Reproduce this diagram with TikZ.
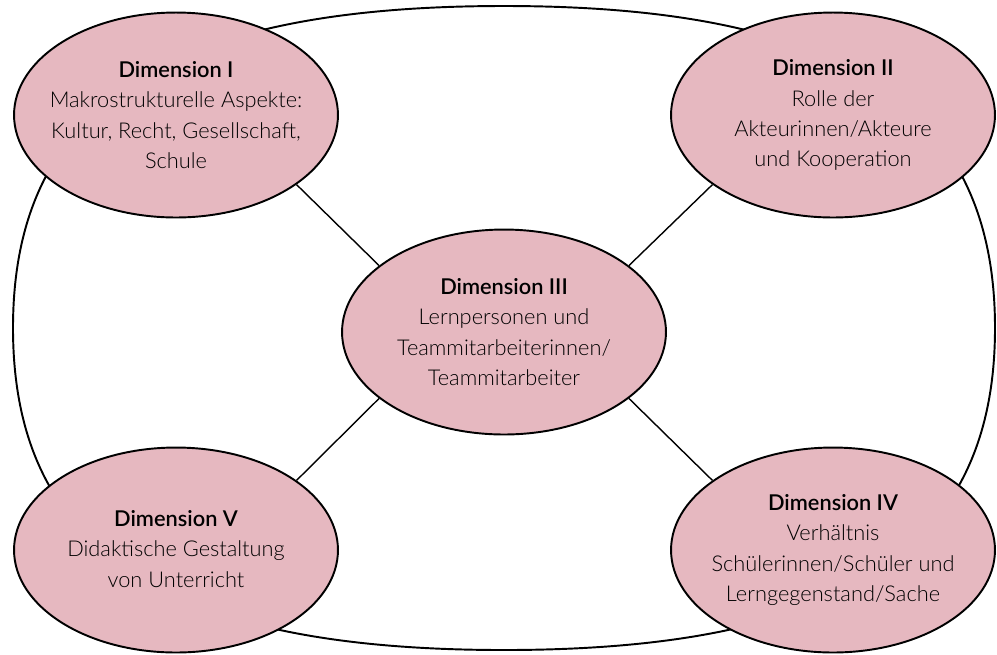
\documentclass[tikz,border=0pt]{standalone}
\usepackage{fontspec}
\setmainfont{Lato}[UprightFont=*-Light, BoldFont=*-Semibold]
\usepackage{tikz}
\usetikzlibrary{shapes.geometric, positioning}
\definecolor{dimpink}{RGB}{230,184,192}

\begin{document}
\begin{tikzpicture}[x=0.02cm, y=-0.02cm,
    dimension/.style={ellipse, draw, line width=1.1pt, fill=dimpink,
        minimum width=6.48cm, minimum height=4.1cm, inner sep=0pt},
    dimtext/.style={align=center, font=\fontsize{12.4}{17.2}\selectfont},
    link/.style={line width=0.8pt}]

    \useasboundingbox (0,0) rectangle (997,654);

    % --- Outer frame ---
    \draw[line width=1.1pt] (995,328) .. controls (995,106) and (843,6) .. (504,6)
          .. controls (165,6) and (13,106) .. (13,328)
          .. controls (13,550) and (165,650) .. (504,650)
          .. controls (843,650) and (995,550) .. (995,328);

    % --- Dimensions ---
    \node[dimension] (dimI)   at (176,115) {};
    \node[dimension] (dimII)  at (833,115) {};
    \node[dimension] (dimIII) at (504,332) {};
    \node[dimension] (dimIV)  at (833,550) {};
    \node[dimension] (dimV)   at (176,550) {};

    % Links to the centre (diagonal)
    \draw[link] (dimI.-30) -- (dimIII.152);
    \draw[link] (dimII.210) -- (dimIII.28);
    \draw[link] (dimIV.150) -- (dimIII.332);
    \draw[link] (dimV.30) -- (dimIII.208);

    % --- Texts ---
    \node[dimtext] (textI) at (dimI)
        {\textbf{Dimension I}\\Makrostrukturelle Aspekte:\\Kultur, Recht, Gesellschaft,\\Schule};
    \node[dimtext] (textII) at (dimII)
        {\textbf{Dimension II}\\Rolle der\\Akteurinnen/Akteure\\und Kooperation};
    \node[dimtext] (textIII) at (dimIII)
        {\textbf{Dimension III}\\Lernpersonen und\\Teammitarbeiterinnen/\\Teammitarbeiter};
    \node[dimtext] (textIV) at (dimIV)
        {\textbf{Dimension IV}\\Verhältnis\\Schülerinnen/Schüler und\\Lerngegenstand/Sache};
    \node[dimtext] (textV) at ([yshift=0.02cm]dimV)
        {\textbf{Dimension V}\\Didaktische Gestaltung\\von Unterricht};

\end{tikzpicture}
\end{document}
